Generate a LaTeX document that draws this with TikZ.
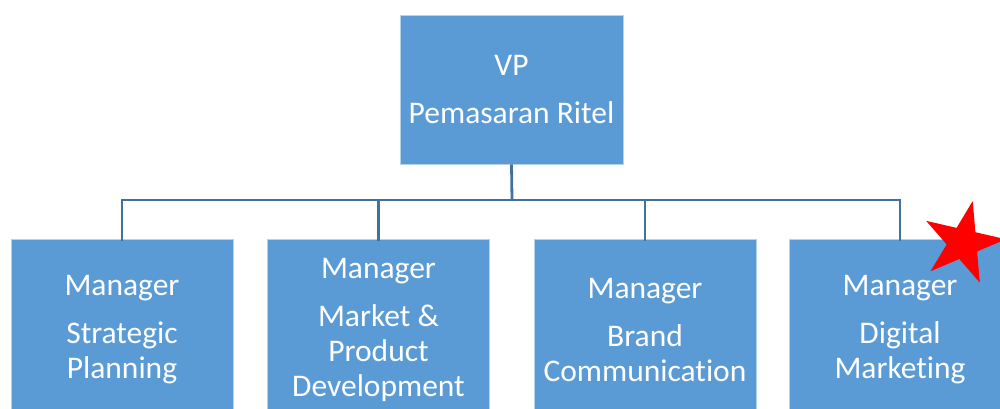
\documentclass[tikz,border=0pt]{standalone}
\usepackage{fontspec}
\setmainfont[Ligatures=NoCommon]{Carlito}
\usetikzlibrary{shapes.geometric}
\definecolor{boxblue}{HTML}{5B9BD5}
\definecolor{linkblue}{HTML}{41719C}
\tikzset{
  orgbox/.style={rectangle, fill=boxblue, draw=white!55!boxblue, line width=0.6pt,
    text=white, align=center, inner sep=0pt, minimum width=222pt,
    font=\fontsize{31.5}{35}\selectfont},
  link/.style={draw=linkblue, line width=2.8pt}
}
\begin{document}
\begin{tikzpicture}[x=1pt,y=-1pt]
\useasboundingbox (0,0) rectangle (1000,409);
\clip (0,0) rectangle (1000,409);
\fill[white] (0,0) rectangle (1000,409);
\node[orgbox, minimum width=223pt, minimum height=149pt] (vp) at (511.5,89.5) {VP\\[13pt]Pemasaran Ritel};
\node[orgbox, minimum height=182pt] (m1) at (122,330) {Manager\\[13pt]Strategic\\Planning};
\node[orgbox, minimum height=182pt] (m2) at (378.5,330) {Manager\\[13pt]Market \&\\Product\\Development};
\node[orgbox, minimum height=182pt] (m3) at (645,330) {Manager\\[13pt]Brand\\Communication};
\node[orgbox, minimum height=182pt] (m4) at (900,330) {Manager\\[13pt]Digital\\Marketing};
\coordinate (bus) at (512,200);
\draw[link] (vp.south) -- (bus);
\draw[link] (bus) -| ([yshift=-2pt]m1.north);
\draw[link] (bus) -| ([yshift=-2pt]m2.north);
\draw[link] (bus) -| ([yshift=-2pt]m3.north);
\draw[link] (bus) -| ([yshift=-2pt]m4.north);
\node[star, star points=5, star point ratio=2.618, minimum size=86pt, inner sep=0pt,
  fill=red, rotate=-13] (star) at (963,243) {};
\end{tikzpicture}
\end{document}
